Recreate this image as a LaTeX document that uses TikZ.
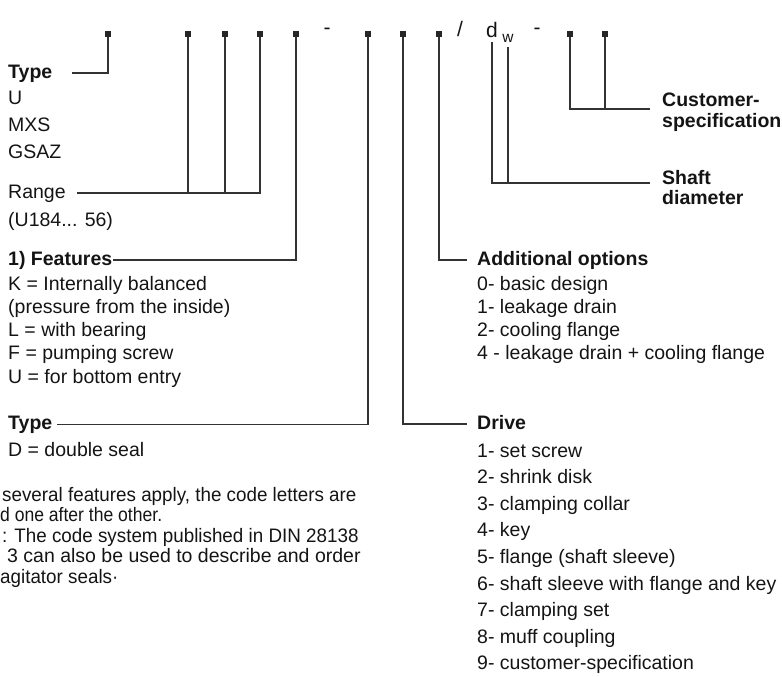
\documentclass[tikz,border=0pt]{standalone}
\usepackage{fontspec}
\setmainfont{Liberation Sans}
\newfontfamily\notefont[FakeStretch=0.965]{Liberation Sans}
\newfontfamily\notetight[FakeStretch=0.9]{Liberation Sans}
\usetikzlibrary{positioning}

\begin{document}
\begin{tikzpicture}[
  x=1pt,y=-1pt,
  every node/.style={inner sep=0pt,text=black!92},
  code/.style={fill=black!85,minimum size=6.5pt,inner sep=0pt},
  lead/.style={draw=black!80,line width=1.2pt},
  item/.style={anchor=west,font=\fontsize{19.5}{21}\selectfont,text height=14pt,text depth=4pt},
  head/.style={item,font=\fontsize{19.5}{21}\selectfont\bfseries},
  headbox/.style={anchor=west,align=left,font=\fontsize{19.5}{20.5}\selectfont\bfseries},
  sign/.style={anchor=center,font=\fontsize{21}{21}\selectfont}
]
\useasboundingbox (0,0) rectangle (782,677);

% code line
\foreach \x [count=\i] in {108,188,225,260,296,368,403,439,570,605}
  \node[code] (c\i) at (\x,34) {};
\node[sign] (dash-a) at (327,31) {-};
\node[sign] (slash) at (460,29) {/};
\node[sign,text height=15pt,text depth=0pt] (d) at (492,30.5) {d};
\node[anchor=center,font=\fontsize{15.5}{15.5}\selectfont] (w) at (508,38) {w};
\node[sign] (dash-b) at (537,31) {-};

% left column
\node[head] (type-a) at (8,73) {Type};
\foreach \t [count=\i] in {{U},{MXS},{GSAZ}}
  \node[item] (type-a-\i) at (8,{73+26.7*\i}) {\t};
\node[item] (range) at (8,193) {Range};
\node[item] (range-1) at (8,221) {(U184... 56)};
\node[head] (feat) at (8,260) {1) Features};
\foreach \t [count=\i] in {{K = Internally balanced},{(pressure from the inside)},{L = with bearing},{F = pumping screw},{U = for bottom entry}}
  \node[item] (feat-\i) at (8,{285+23.3*(\i-1)}) {\t};
\node[head] (type-d) at (8,424.5) {Type};
\node[item] (type-d-1) at (8,451) {D = double seal};
\foreach \x/\f/\t [count=\i] in {2/\notefont/{several features apply, the code letters are},0/\notetight/{d one after the other.},2/\notefont/{: The code system published in DIN 28138},7/\selectfont/{3 can also be used to describe and order},0/\notefont/{agitator seals·}}
  \node[item,font=\fontsize{19.5}{21}\f] (note-\i) at (\x,{496+20.5*(\i-1)}) {\t};

% right column
\node[head] (addopt) at (477,260) {Additional options};
\foreach \t [count=\i] in {{0- basic design},{1- leakage drain},{2- cooling flange},{4 - leakage drain + cooling flange}}
  \node[item] (addopt-\i) at (477,{285+23.2*(\i-1)}) {\t};
\node[head] (drive) at (477,424) {Drive};
\foreach \t [count=\i] in {{1- set screw},{2- shrink disk},{3- clamping collar},{4- key},{5- flange (shaft sleeve)},{6- shaft sleeve with flange and key},{7- clamping set},{8- muff coupling},{9- customer-specification}}
  \node[item] (drive-\i) at (477,{452+26.6*(\i-1)}) {\t};
\node[headbox] (cust) at (662,112) {Customer-\\specification};
\node[headbox] (shaft) at (662,187.5) {Shaft\\diameter};

% leads
\coordinate (range-in) at ([xshift=11pt]range.east);
\coordinate (cust-in) at ([xshift=-12pt,yshift=3pt]cust.west);
\coordinate (shaft-in) at ([xshift=-12pt,yshift=4.5pt]shaft.west);
\draw[lead] (c1.south) |- ([xshift=20pt]type-a.east);
\draw[lead] (range-in) -| (c4.south);
\draw[lead] (c2.south) -- (c2.south |- range-in);
\draw[lead] (c3.south) -- (c3.south |- range-in);
\draw[lead] (c5.south) |- ([xshift=1pt]feat.east);
\draw[lead] (c6.south) |- ([xshift=4.5pt]type-d.east);
\draw[lead] (c7.south) |- ([xshift=-10pt]drive.west);
\draw[lead] (c8.south) |- ([xshift=-10pt]addopt.west);
\draw[lead,shorten <=4pt] (d.south) |- (shaft-in);
\draw[lead,shorten <=5pt] (w.south) -- (w.south |- shaft-in);
\draw[lead] (c9.south) |- (cust-in);
\draw[lead] (c10.south) -- (c10.south |- cust-in);
\end{tikzpicture}
\end{document}
